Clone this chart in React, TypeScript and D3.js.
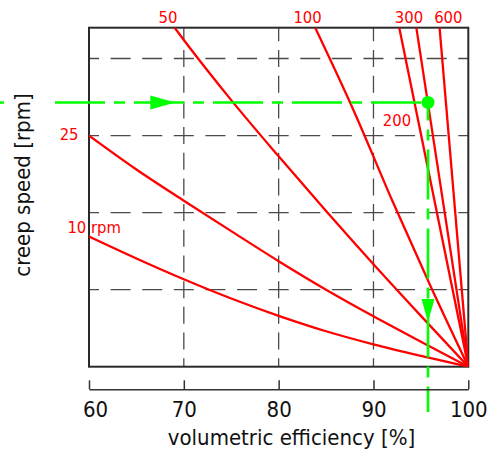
import React, { useEffect, useRef } from 'react';
import * as d3 from 'd3';

// volumetric efficiency [%] ticks and creep speed grid (grid units, no labels)
const efficiencyTicks = [60, 70, 80, 90, 100];
const speedGrid = [1, 2, 3, 4];

// curves: [volumetric efficiency %, creep speed (grid units)]
const curve10: [number, number][] = [[60, 1.69], [65, 1.405], [70, 1.135], [75, 0.885], [80, 0.66], [85, 0.46], [90, 0.29], [95, 0.14], [100, 0]];
const curve25: [number, number][] = [[60, 3.0], [65, 2.56], [70, 2.155], [75, 1.76], [80, 1.37], [85, 1.0], [90, 0.655], [95, 0.325], [100, 0]];
const curve50: [number, number][] = [[68, 4.57], [70, 4.24], [75, 3.46], [80, 2.73], [85, 2.02], [90, 1.33], [95, 0.66], [100, 0]];
const curve100: [number, number][] = [[83, 4.62], [88, 3.3], [92, 2.15], [96, 1.05], [100, 0]];
const curve200: [number, number][] = [[92.72, 4.4], [100, 0]];
const curve300: [number, number][] = [[94.52, 4.4], [100, 0]];
const curve600: [number, number][] = [[96.97, 4.4], [100, 0]];
const curves = [curve10, curve25, curve50, curve100, curve200, curve300, curve600];

// curve labels and their anchor (centre) in data coordinates
const curveLabelTexts = ['10 rpm', '25', '50', '100', '200', '300', '600'];
const curveLabelEff = [60.55, 57.9, 68.32, 83.05, 92.48, 93.74, 97.89];
const curveLabelSpeed = [1.731, 2.942, 4.467, 4.467, 3.124, 4.467, 4.467];

// operating point
const operatingPoint: [number, number] = [95.75, 3.43];

const xTitle = 'volumetric efficiency [%]';
const yTitle = 'creep speed [rpm]';

const W = 493;
const H = 454;
const FONT = "'DejaVu Sans Condensed', 'DejaVu Sans', sans-serif";
const RED = '#ff0000';
const GREEN = '#00ff00';

export default function App() {
  const ref = useRef<SVGSVGElement>(null);

  useEffect(() => {
    const svg = d3.select(ref.current);
    svg.selectAll('*').remove();

    const left = 89, right = 468.3, top = 27.7, bottom = 366.7;
    const x = d3.scaleLinear().domain([60, 100]).range([left, right]);
    const y = d3.scaleLinear().domain([0, 4.4]).range([bottom, top]);

    const defs = svg.append('defs');
    defs.append('clipPath').attr('id', 'plotClip')
      .append('rect').attr('x', left).attr('y', top)
      .attr('width', right - left).attr('height', bottom - top);

    // grid
    const gridColor = '#4a4a4a';
    const hPeriod = (x(70) - x(60)) / 3;
    svg.append('g').selectAll('line').data(speedGrid).join('line')
      .attr('x1', left).attr('x2', right)
      .attr('y1', d => y(d)).attr('y2', d => y(d))
      .attr('stroke', gridColor).attr('stroke-width', 1.3)
      .attr('stroke-dasharray', `20 ${hPeriod - 20}`)
      .attr('stroke-dashoffset', 10);
    const vPeriod = (y(0) - y(1)) / 3;
    svg.append('g').selectAll('line').data(efficiencyTicks.slice(1, -1)).join('line')
      .attr('x1', d => x(d)).attr('x2', d => x(d))
      .attr('y1', bottom).attr('y2', top)
      .attr('stroke', gridColor).attr('stroke-width', 1.3)
      .attr('stroke-dasharray', `17 ${vPeriod - 17}`)
      .attr('stroke-dashoffset', 8.5);

    // frame
    svg.append('rect').attr('x', left).attr('y', top)
      .attr('width', right - left).attr('height', bottom - top)
      .attr('fill', 'none').attr('stroke', '#2a2a2a').attr('stroke-width', 2);

    // red curves
    const line = d3.line<[number, number]>()
      .x(d => x(d[0])).y(d => y(d[1]))
      .curve(d3.curveMonotoneX);
    svg.append('g').attr('clip-path', 'url(#plotClip)')
      .selectAll('path').data(curves).join('path')
      .attr('d', d => line(d) as string)
      .attr('fill', 'none').attr('stroke', RED).attr('stroke-width', 2.3)
      .attr('stroke-linejoin', 'round');

    // green construction lines
    const gx = x(operatingPoint[0]);
    const gy = y(operatingPoint[1]);
    svg.append('line')
      .attr('x1', 0).attr('x2', gx).attr('y1', gy).attr('y2', gy)
      .attr('stroke', GREEN).attr('stroke-width', 2.6)
      .attr('stroke-dasharray', '50 9 11 9').attr('stroke-dashoffset', 24);
    svg.append('line')
      .attr('x1', gx).attr('x2', gx).attr('y1', gy).attr('y2', 412)
      .attr('stroke', GREEN).attr('stroke-width', 2.6)
      .attr('stroke-dasharray', '50 9 11 9').attr('stroke-dashoffset', 32);

    // arrows
    const hTip = x(69.1);
    svg.append('path')
      .attr('d', `M${hTip},${gy} L${hTip - 25},${gy - 7} L${hTip - 25},${gy + 7} Z`)
      .attr('fill', GREEN);
    const vTip = y(0.58);
    svg.append('path')
      .attr('d', `M${gx},${vTip} L${gx - 6.5},${vTip - 23} L${gx + 6.5},${vTip - 23} Z`)
      .attr('fill', GREEN);
    svg.append('circle').attr('cx', gx).attr('cy', gy).attr('r', 6.5).attr('fill', GREEN);

    // curve labels
    svg.append('g').selectAll('text').data(curveLabelTexts).join('text')
      .attr('x', (_, i) => x(curveLabelEff[i]))
      .attr('y', (_, i) => y(curveLabelSpeed[i]))
      .attr('text-anchor', 'middle')
      .attr('font-family', FONT).attr('font-size', 16.5)
      .attr('fill', RED)
      .text(d => d);

    // bottom axis
    const axisY = 389.3;
    const axis = d3.axisBottom(x).tickValues(efficiencyTicks)
      .tickSizeInner(-9).tickSizeOuter(0).tickPadding(12)
      .tickFormat(d => String(d));
    const ag = svg.append('g').attr('transform', `translate(0,${axisY})`).call(axis);
    ag.select('.domain').attr('stroke', '#333').attr('stroke-width', 1.5);
    ag.selectAll('.tick line').attr('stroke', '#333').attr('stroke-width', 1.5);
    ag.selectAll('.tick text')
      .attr('font-family', FONT).attr('font-size', 22).attr('fill', '#111')
      .attr('dx', (_, i) => (i === 0 ? 6 : 0));
    ag.attr('font-family', null).attr('font-size', null);

    // titles
    svg.append('text')
      .attr('x', 291.5).attr('y', 445)
      .attr('text-anchor', 'middle')
      .attr('font-family', FONT).attr('font-size', 22).attr('fill', '#111')
      .text(xTitle);

    svg.append('rect').attr('x', 4).attr('y', 88).attr('width', 45).attr('height', 194)
      .attr('fill', '#fff');
    svg.append('text')
      .attr('transform', 'translate(30,185) rotate(-90)')
      .attr('text-anchor', 'middle')
      .attr('font-family', FONT).attr('font-size', 22).attr('fill', '#111')
      .text(yTitle);
  }, []);

  return (
    <div style={{ position: 'absolute', left: 0, top: 0 }}>
      <svg ref={ref} width={W} height={H} style={{ display: 'block', background: '#fff' }} />
    </div>
  );
}
